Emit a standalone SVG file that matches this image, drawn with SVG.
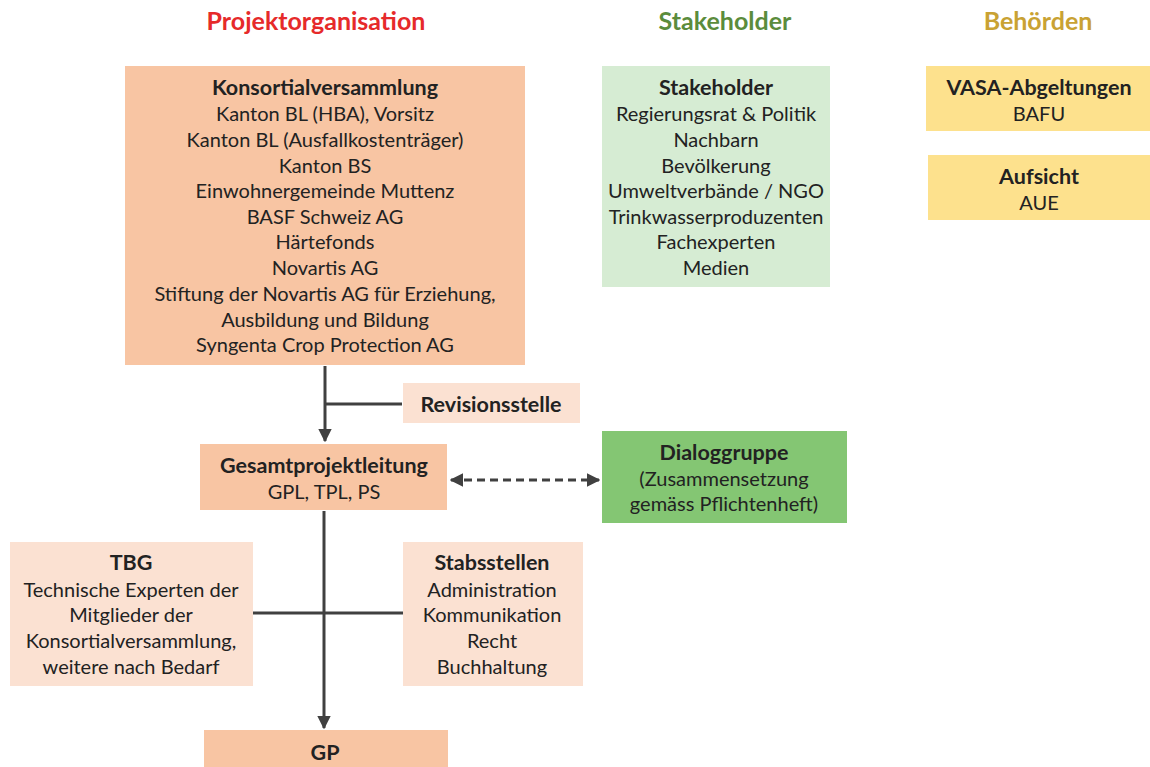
<svg xmlns="http://www.w3.org/2000/svg" width="1150" height="767" viewBox="0 0 1150 767">
<defs>
<marker id="ah" viewBox="0 0 10 10" refX="9" refY="5" markerWidth="4.5" markerHeight="4.5" orient="auto-start-reverse" markerUnits="strokeWidth">
<path d="M0,0 L10,5 L0,10 z" fill="#404040"/>
</marker>
<style>
text{font-family:Lato,"Open Sans","Liberation Sans",sans-serif;font-size:20px;fill:#222;text-anchor:middle}
.b{font-weight:bold;font-size:21.5px}
.h{font-size:25px;font-weight:bold}
.peach{fill:#f8c5a3}
.lpeach{fill:#fbe1d2}
.lgreen{fill:#d6ecd3}
.green{fill:#84c673}
.yellow{fill:#fde18d}
.ln{stroke:#404040;stroke-width:3;fill:none}
</style>
</defs>
<rect width="1150" height="767" fill="#fff"/>
<g id="headers">
<text x="316" y="30" class="h" style="fill:#e62a2a">Projektorganisation</text>
<text x="725" y="30" class="h" style="fill:#5b8c3c">Stakeholder</text>
<text x="1038" y="30" class="h" style="fill:#c9a233">Behörden</text>
</g>
<g id="connectors">
<line class="ln" x1="325" y1="366" x2="325" y2="441" marker-end="url(#ah)"/>
<line class="ln" x1="325" y1="404" x2="402" y2="404"/>
<line class="ln" x1="451" y1="480" x2="599" y2="480" stroke-dasharray="8,5" marker-start="url(#ah)" marker-end="url(#ah)"/>
<line class="ln" x1="324" y1="511" x2="324" y2="728" marker-end="url(#ah)"/>
<line class="ln" x1="253" y1="613" x2="403" y2="613"/>
</g>
<g id="konsortial">
<rect class="peach" x="125" y="66" width="400" height="299"/>
<text x="325" y="95" class="b">Konsortialversammlung</text>
<text x="325" y="121">Kanton BL (HBA), Vorsitz</text>
<text x="325" y="147">Kanton BL (Ausfallkostenträger)</text>
<text x="325" y="173">Kanton BS</text>
<text x="325" y="198">Einwohnergemeinde Muttenz</text>
<text x="325" y="224">BASF Schweiz AG</text>
<text x="325" y="249">Härtefonds</text>
<text x="325" y="275">Novartis AG</text>
<text x="325" y="301">Stiftung der Novartis AG für Erziehung,</text>
<text x="325" y="327">Ausbildung und Bildung</text>
<text x="325" y="352">Syngenta Crop Protection AG</text>
</g>
<g id="stakeholder">
<rect class="lgreen" x="602" y="66" width="228" height="221"/>
<text x="716" y="95" class="b">Stakeholder</text>
<text x="716" y="121">Regierungsrat &amp; Politik</text>
<text x="716" y="147">Nachbarn</text>
<text x="716" y="173">Bevölkerung</text>
<text x="716" y="198">Umweltverbände / NGO</text>
<text x="716" y="224">Trinkwasserproduzenten</text>
<text x="716" y="249">Fachexperten</text>
<text x="716" y="275">Medien</text>
</g>
<g id="vasa">
<rect class="yellow" x="926" y="66" width="224" height="65"/>
<text x="1039" y="95" class="b">VASA-Abgeltungen</text>
<text x="1039" y="121">BAFU</text>
</g>
<g id="aufsicht">
<rect class="yellow" x="928" y="155" width="222" height="65"/>
<text x="1039" y="184" class="b">Aufsicht</text>
<text x="1039" y="210">AUE</text>
</g>
<g id="revisionsstelle">
<rect class="lpeach" x="403" y="383" width="177" height="40"/>
<text x="491" y="412" class="b">Revisionsstelle</text>
</g>
<g id="gesamtprojektleitung">
<rect class="peach" x="200" y="444" width="247" height="66"/>
<text x="324" y="473" class="b">Gesamtprojektleitung</text>
<text x="324" y="499">GPL, TPL, PS</text>
</g>
<g id="dialoggruppe">
<rect class="green" x="602" y="431" width="245" height="92"/>
<text x="724" y="460" class="b">Dialoggruppe</text>
<text x="724" y="486">(Zusammensetzung</text>
<text x="724" y="511">gemäss Pflichtenheft)</text>
</g>
<g id="tbg">
<rect class="lpeach" x="10" y="542" width="243" height="144"/>
<text x="131" y="570" class="b">TBG</text>
<text x="131" y="597">Technische Experten der</text>
<text x="131" y="622">Mitglieder der</text>
<text x="131" y="648">Konsortialversammlung,</text>
<text x="131" y="674">weitere nach Bedarf</text>
</g>
<g id="stabsstellen">
<rect class="lpeach" x="403" y="542" width="180" height="144"/>
<text x="492" y="570" class="b">Stabsstellen</text>
<text x="492" y="597">Administration</text>
<text x="492" y="622">Kommunikation</text>
<text x="492" y="648">Recht</text>
<text x="492" y="674">Buchhaltung</text>
</g>
<g id="gp">
<rect class="peach" x="204" y="730" width="244" height="40"/>
<text x="325" y="760" class="b">GP</text>
</g>
</svg>
